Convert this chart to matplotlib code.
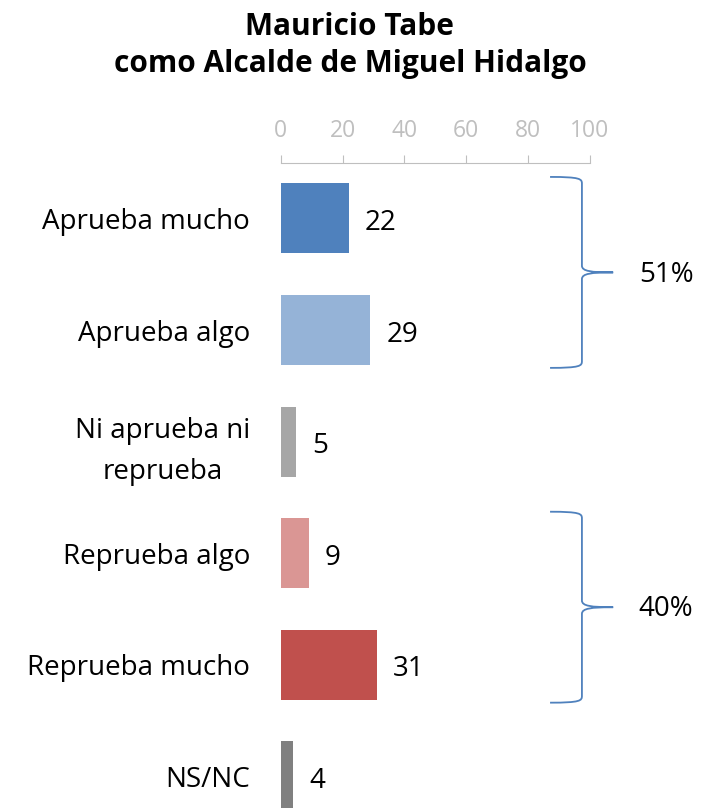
import matplotlib
matplotlib.use("Agg")
import matplotlib.pyplot as plt
from matplotlib.path import Path
from matplotlib.patches import PathPatch

plt.rcParams['font.family'] = ['Open Sans', 'DejaVu Sans']

# data
categories = ["Aprueba mucho", "Aprueba algo", "Ni aprueba ni\nreprueba",
              "Reprueba algo", "Reprueba mucho", "NS/NC"]
values = [22, 29, 5, 9, 31, 4]
colors = ["#4F81BD", "#95B3D7", "#A6A6A6", "#DA9694", "#C0504D", "#808080"]
groups = [("51%", 0, 1), ("40%", 3, 4)]
ticks = [0, 20, 40, 60, 80, 100]

fig = plt.figure(figsize=(7.23, 8.08), dpi=100)
ax = fig.add_axes([0.3882, -0.030, 0.4278, 0.8287])

pos = list(range(len(categories)))
ax.barh(pos, values, height=0.627, color=colors)
ax.set_ylim(5.5, -0.5)
ax.set_xlim(0, 100)

# only the top axis is shown
for s in ["left", "right", "bottom"]:
    ax.spines[s].set_visible(False)
ax.spines["top"].set_color("#BFBFBF")
ax.xaxis.tick_top()
ax.set_xticks(ticks)
ax.tick_params(axis="x", colors="#BFBFBF", labelsize=16.5, length=6, pad=8,
               direction="out")
ax.tick_params(axis="y", length=0, labelsize=20, pad=22)
ax.set_yticks(pos)
ax.set_yticklabels(categories, ha="right", linespacing=1.6,
                   multialignment="center")

for p, v in zip(pos, values):
    ax.text(v + 5.3, p + 0.04, str(v), va="center", ha="left", fontsize=20,
            clip_on=False)


def brace(ax, y0, y1, x0=87.1, x1=97.4, x2=107.5):
    ym = (y0 + y1) / 2
    d = 0.06
    verts = [(x0, y0), (x1 - 0.5, y0), (x1, y0 + d * 0.3), (x1, y0 + d),
             (x1, ym - d),
             (x1, ym - 0.01), (x1 + 3, ym), (x2, ym),
             (x1 + 3, ym), (x1, ym + 0.01), (x1, ym + d),
             (x1, y1 - d),
             (x1, y1 - d * 0.3), (x1 - 0.5, y1), (x0, y1)]
    codes = [Path.MOVETO, Path.CURVE4, Path.CURVE4, Path.CURVE4,
             Path.LINETO,
             Path.CURVE4, Path.CURVE4, Path.CURVE4,
             Path.CURVE4, Path.CURVE4, Path.CURVE4,
             Path.LINETO,
             Path.CURVE4, Path.CURVE4, Path.CURVE4]
    patch = PathPatch(Path(verts, codes), fill=False, edgecolor="#4F81BD",
                      lw=1.3, clip_on=False)
    ax.add_patch(patch)
    return ym


for label, i0, i1 in groups:
    ym = brace(ax, i0 - 0.372, i1 + 0.339)
    ax.text(115.8, ym + 0.02, label, va="center", ha="left", fontsize=20,
            clip_on=False)

fig.text(0.484, 0.944, "Mauricio Tabe\ncomo Alcalde de Miguel Hidalgo",
         ha="center", va="center", fontsize=21.5, fontweight="bold",
         linespacing=1.3)

fig.savefig("out.png", dpi=100)
